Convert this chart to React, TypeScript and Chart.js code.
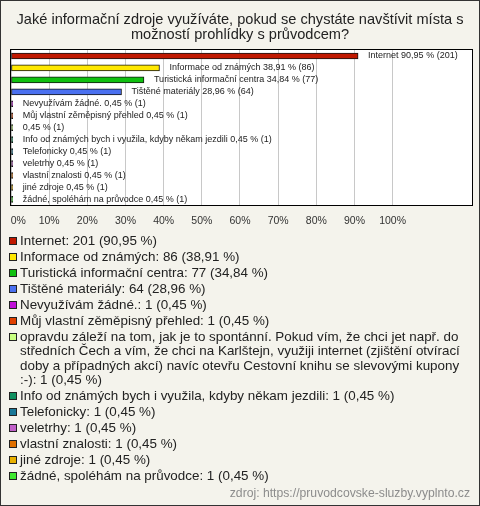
import React, { useEffect, useRef } from 'react';
import { Chart, registerables } from 'chart.js';

Chart.register(...registerables);

const titleLines = [
  'Jaké informační zdroje využíváte, pokud se chystáte navštívit místa s',
  'možností prohlídky s průvodcem?',
];

const categories = [
  'Internet',
  'Informace od známých',
  'Turistická informační centra',
  'Tištěné materiály',
  'Nevyužívám žádné.',
  'Můj vlastní zěměpisný přehled',
  'opravdu záleží na tom, jak je to spontánní. Pokud vím, že chci jet např. do středních Čech a vím, že chci na Karlštejn, využiji internet (zjištění otvírací doby a případných akcí) navíc otevřu Cestovní knihu se slevovými kupony :-)',
  'Info od známých bych i využila, kdyby někam jezdili',
  'Telefonicky',
  'veletrhy',
  'vlastní znalosti',
  'jiné zdroje',
  'žádné, spoléhám na průvodce',
];

const barLabels = [
  'Internet',
  'Informace od známých',
  'Turistická informační centra',
  'Tištěné materiály',
  'Nevyužívám žádné.',
  'Můj vlastní zěměpisný přehled',
  '',
  'Info od známých bych i využila, kdyby někam jezdili',
  'Telefonicky',
  'veletrhy',
  'vlastní znalosti',
  'jiné zdroje',
  'žádné, spoléhám na průvodce',
];

const counts = [201, 86, 77, 64, 1, 1, 1, 1, 1, 1, 1, 1, 1];
const percents = [90.95, 38.91, 34.84, 28.96, 0.45, 0.45, 0.45, 0.45, 0.45, 0.45, 0.45, 0.45, 0.45];

const colors = [
  '#c01800',
  '#ffe800',
  '#10c010',
  '#4a70f0',
  '#c010d8',
  '#e04000',
  '#c8ff80',
  '#109060',
  '#1a7898',
  '#c060c8',
  '#e07000',
  '#e8b000',
  '#40e830',
];

const xTickValues = [0, 10, 20, 30, 40, 50, 60, 70, 80, 90, 100];
const sourceText = 'zdroj: https://pruvodcovske-sluzby.vyplnto.cz';

const FONT = "'Liberation Sans', Arial, sans-serif";
const fmt = (v: number) => v.toFixed(2).replace('.', ',');

const decorPlugin = {
  id: 'decor',
  beforeDraw(chart: any) {
    const { ctx, width, height, chartArea } = chart;
    ctx.save();
    ctx.fillStyle = '#f4f3ec';
    ctx.fillRect(0, 0, width, height);
    ctx.strokeStyle = '#333';
    ctx.lineWidth = 1;
    ctx.strokeRect(0.5, 0.5, width - 1, height - 1);
    ctx.fillStyle = '#ffffff';
    ctx.fillRect(chartArea.left, chartArea.top, chartArea.right - chartArea.left, chartArea.bottom - chartArea.top);
    ctx.restore();
  },
  beforeDatasetsDraw(chart: any) {
    const { ctx, chartArea } = chart;
    ctx.save();
    ctx.strokeStyle = '#000';
    ctx.lineWidth = 1;
    ctx.strokeRect(
      Math.round(chartArea.left) - 0.5,
      Math.round(chartArea.top) - 0.5,
      Math.round(chartArea.right - chartArea.left) + 1,
      Math.round(chartArea.bottom - chartArea.top) + 1
    );
    ctx.restore();
  },
  afterDatasetsDraw(chart: any) {
    const { ctx } = chart;
    const meta = chart.getDatasetMeta(0);
    ctx.save();
    ctx.font = `9px ${FONT}`;
    ctx.fillStyle = '#222';
    ctx.textBaseline = 'middle';
    ctx.textAlign = 'left';
    meta.data.forEach((bar: any, i: number) => {
      const name = barLabels[i];
      const txt = (name ? name + ' ' : '') + fmt(percents[i]) + ' % (' + counts[i] + ')';
      ctx.fillText(txt, bar.x + 10, bar.y);
    });
    ctx.restore();
  },
  afterDraw(chart: any) {
    const { ctx, width } = chart;
    ctx.save();
    // title
    ctx.font = `14.6px ${FONT}`;
    ctx.fillStyle = '#222';
    ctx.textAlign = 'center';
    ctx.textBaseline = 'middle';
    titleLines.forEach((l, i) => ctx.fillText(l, width / 2, 20 + i * 15));

    // legend
    ctx.font = `13.4px ${FONT}`;
    ctx.textAlign = 'left';
    const maxW = 450;
    let y = 241;
    const lineH = 14.3;
    const gap = 1.7;
    categories.forEach((name, i) => {
      const text = `${name}: ${counts[i]} (${fmt(percents[i])} %)`;
      const words = text.split(' ');
      const lines: string[] = [];
      let cur = '';
      words.forEach((w) => {
        const test = cur ? cur + ' ' + w : w;
        if (ctx.measureText(test).width > maxW && cur) {
          lines.push(cur);
          cur = w;
        } else {
          cur = test;
        }
      });
      if (cur) lines.push(cur);
      ctx.fillStyle = colors[i];
      ctx.fillRect(9, Math.round(y) - 4, 8, 8);
      ctx.strokeStyle = '#222';
      ctx.lineWidth = 1;
      ctx.strokeRect(9.5, Math.round(y) - 3.5, 7, 7);
      ctx.fillStyle = '#222';
      lines.forEach((l, j) => {
        ctx.fillText(l, 20, y + j * lineH + 0.5);
      });
      y += lines.length * lineH + gap;
    });

    // source
    ctx.font = `12.2px ${FONT}`;
    ctx.fillStyle = '#8c8c8c';
    ctx.textAlign = 'right';
    ctx.fillText(sourceText, 470, 494);
    ctx.restore();
  },
};

export default function App() {
  const canvasRef = useRef<HTMLCanvasElement | null>(null);

  useEffect(() => {
    const canvas = canvasRef.current;
    if (!canvas) return;
    const chart = new Chart(canvas, {
      type: 'bar',
      data: {
        labels: barLabels,
        datasets: [
          {
            data: percents,
            backgroundColor: colors,
            borderColor: '#151515',
            borderWidth: 1,
            borderSkipped: false,
            barThickness: 6,
          },
        ],
      },
      options: {
        indexAxis: 'y',
        responsive: false,
        animation: false,
        devicePixelRatio: 1,
        layout: { padding: { left: 11, right: 8, top: 50, bottom: 279 } },
        plugins: {
          legend: { display: false },
          tooltip: { enabled: false },
          title: { display: false },
        },
        scales: {
          x: {
            type: 'linear',
            min: 0,
            max: 120.8,
            afterBuildTicks: (scale: any) => {
              scale.ticks = xTickValues.map((v) => ({ value: v }));
            },
            afterFit: (scale: any) => {
              scale.paddingLeft = 0;
              scale.paddingRight = 0;
              scale.height = 21.6;
            },
            ticks: {
              callback: (v: any) => (v === 0 ? '     0%' : v + '%'),
              font: { family: FONT, size: 10.5 },
              color: '#333',
              padding: 9,
              maxRotation: 0,
              autoSkip: false,
            },
            grid: { color: '#c8c8c8', drawTicks: false },
            border: { display: false },
          },
          y: {
            display: false,
            grid: { display: false },
          },
        },
      },
      plugins: [decorPlugin],
    });
    return () => chart.destroy();
  }, []);

  return (
    <div style={{ position: 'fixed', left: 0, top: 0, width: 480, height: 506 }}>
      <canvas ref={canvasRef} width={480} height={506} style={{ display: 'block' }} />
    </div>
  );
}
